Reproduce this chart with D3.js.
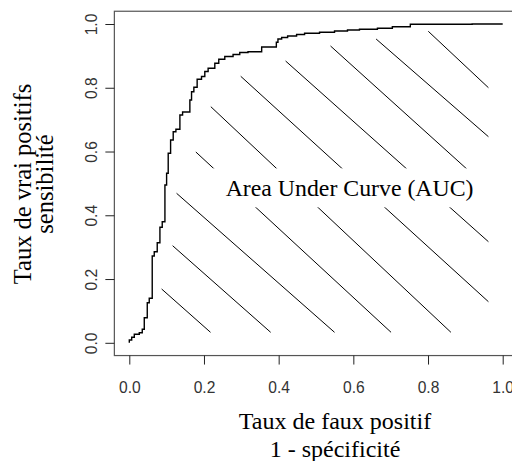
<!DOCTYPE html>
<html><head><meta charset="utf-8">
<script src="https://cdn.jsdelivr.net/npm/d3@7"></script>
<style>body{margin:0;background:#fff}svg{display:block}</style>
</head><body>
<svg id="c" width="512" height="461"></svg>
<script>
// ROC curve corners (false positive rate, true positive rate)
const fpr = [0,0.0064,0.0134,0.0267,0.0347,0.0401,0.0481,0.0534,0.0614,0.0668,0.0748,0.0820,0.0882,0.0954,
  0.0999,0.1042,0.1106,0.1176,0.1248,0.1355,0.1427,0.1622,0.1667,0.1729,0.1817,0.1934,0.2022,0.2111,0.2290,
  0.2396,0.2557,0.2779,0.2958,0.3179,0.3545,0.3938,0.3981,0.4080,0.4240,0.4480,0.4694,0.5095,0.5496,0.5843,
  0.6164,0.6645,0.7045,0.7526,0.9182,1.0];
const tpr = [0,0.0088,0.0173,0.0267,0.0317,0.0423,0.0787,0.1258,0.1396,0.2723,0.2858,0.3140,0.3623,0.3799,
  0.4950,0.5317,0.5944,0.6361,0.6622,0.6697,0.7146,0.7240,0.7616,0.7876,0.8014,0.8265,0.8353,0.8510,0.8610,
  0.8767,0.8893,0.8981,0.9043,0.9106,0.9131,0.9279,0.9426,0.9529,0.9577,0.9624,0.9671,0.9708,0.9740,0.9780,
  0.9812,0.9834,0.9865,0.9915,0.9991,1.0];
// hatch segments of the area under the curve
const hatchX1 = [0.8007,0.6610,0.5389,0.4186,0.2984,0.2183,0.1782,0.1266,0.1160,0.0866];
const hatchY1 = [0.9771,0.9529,0.9310,0.8839,0.8360,0.7406,0.5985,0.4690,0.3046,0.1688];
const hatchX2 = [0.9618,0.9618,0.9618,0.9618,0.9618,0.8613,0.7010,0.5496,0.3786,0.2175];
const hatchY2 = [0.8002,0.6465,0.4840,0.3171,0.1289,0.0329,0.0329,0.0329,0.0329,0.0329];
const tickValues = [0,0.2,0.4,0.6,0.8,1.0];
const tickLabels = ["0.0","0.2","0.4","0.6","0.8","1.0"];
const xTitle = ["Taux de faux positif","1 - spécificité"];
const yTitle = ["Taux de vrai positifs","sensibilité"];
const aucLabel = "Area Under Curve (AUC)";

(function(){
const svg = d3.select("#c");
const x = d3.scaleLinear().domain([0,1]).range([129.3,502.7]);
const y = d3.scaleLinear().domain([0,1]).range([342.8,24]);
const ext = 0.04;
const bxL = x(-ext), bxR = x(1+ext), bxT = y(1+ext), bxB = y(-ext);

// hatching
const hatch = hatchX1.map((d,i)=>({x1:d,y1:hatchY1[i],x2:hatchX2[i],y2:hatchY2[i]}));
svg.append("g").selectAll("line").data(hatch).join("line")
  .attr("x1",d=>x(d.x1)).attr("y1",d=>y(d.y1))
  .attr("x2",d=>x(d.x2)).attr("y2",d=>y(d.y2))
  .attr("stroke","#000").attr("stroke-width",1);

// label with white background
const lab = svg.append("g");
const bg = lab.append("rect").attr("fill","#fff");
const t = lab.append("text").attr("x",x(0.59)).attr("y",y(0.461))
  .attr("text-anchor","middle").attr("font-family","'Liberation Serif','Times New Roman',serif")
  .attr("font-size",23.8).attr("fill","#000").text(aucLabel);
const bb = t.node().getBBox();
bg.attr("x",bb.x-20).attr("y",bb.y-6.5).attr("width",bb.width+40).attr("height",bb.height+13);

// ROC curve
const pts = fpr.map((d,i)=>[d,tpr[i]]);
svg.append("path").datum(pts)
  .attr("d",d3.line().x(d=>x(d[0])).y(d=>y(d[1])).curve(d3.curveStepBefore))
  .attr("fill","none").attr("stroke","#000").attr("stroke-width",1.4);

// box
svg.append("rect").attr("x",bxL).attr("y",bxT).attr("width",bxR-bxL).attr("height",bxB-bxT)
  .attr("fill","none").attr("stroke","#555").attr("stroke-width",1.2);

// axes
const ax = svg.append("g").attr("transform",`translate(0,${bxB})`)
  .call(d3.axisBottom(x).tickValues(tickValues).tickSize(9).tickFormat((d,i)=>tickLabels[i]));
ax.select(".domain").remove();
ax.selectAll("line").attr("stroke","#222");
ax.selectAll("text").attr("dy",null).attr("y",37).attr("fill","#333")
  .attr("font-family","'Liberation Sans',Arial,sans-serif").attr("font-size",15.6);

const ay = svg.append("g").attr("transform",`translate(${bxL},0)`)
  .call(d3.axisLeft(y).tickValues(tickValues).tickSize(9).tickFormat((d,i)=>tickLabels[i]));
ay.select(".domain").remove();
ay.selectAll("line").attr("stroke","#222");
ay.selectAll("text").attr("dy",null).attr("x",null).attr("y",null)
  .attr("text-anchor","middle").attr("fill","#333")
  .attr("font-family","'Liberation Sans',Arial,sans-serif").attr("font-size",15.6)
  .attr("transform","translate(-17.5,0) rotate(-90)");

// titles
const serif = "'Liberation Serif','Times New Roman',serif";
svg.append("g").selectAll("text").data(xTitle).join("text")
  .attr("x",335).attr("y",(d,i)=>429+i*27.5).attr("text-anchor","middle")
  .attr("font-family",serif).attr("font-size",24).attr("fill","#000").text(d=>d);
svg.append("g").selectAll("text").data(yTitle).join("text")
  .attr("transform",(d,i)=>`translate(${31+i*22},184) rotate(-90)`).attr("text-anchor","middle")
  .attr("font-family",serif).attr("font-size",24.5).attr("fill","#000").text(d=>d);
})();
</script>
</body></html>
